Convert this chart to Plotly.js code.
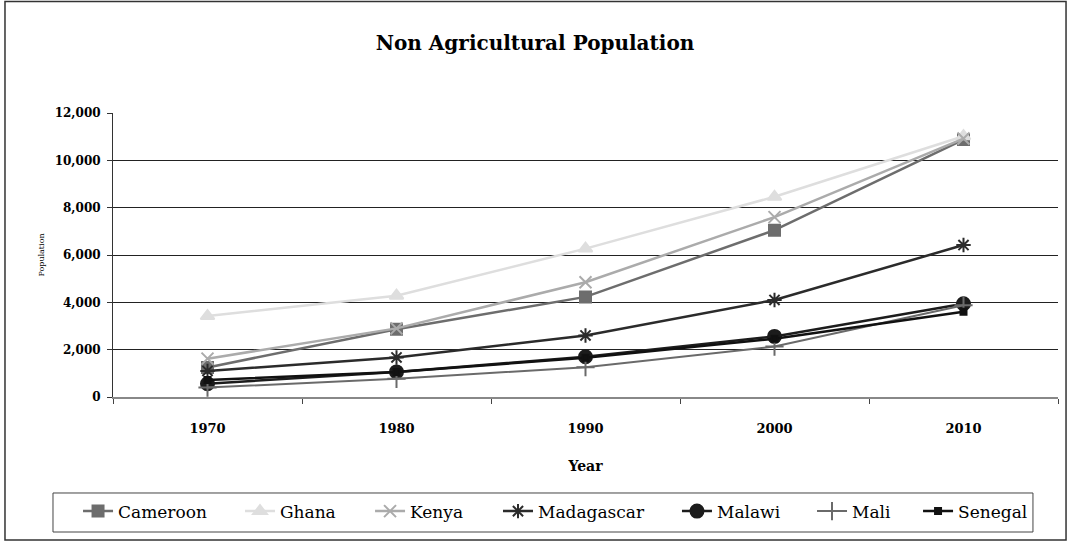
<!DOCTYPE html>
<html>
<head>
<meta charset="utf-8">
<script src="https://cdn.plot.ly/plotly-3.0.1.min.js"></script>
<style>
  html, body { margin: 0; padding: 0; background: #fff; }
  #chart { width: 1070px; height: 543px; }
</style>
</head>
<body>
<div id="chart"></div>
<script>
// Non-agricultural population by country (thousands)
const years = ['1970', '1980', '1990', '2000', '2010'];

const cameroon   = [1250, 2860, 4230, 7050, 10880];
const ghana      = [3420, 4280, 6270, 8460, 11020];
const kenya      = [1620, 2900, 4850, 7600, 10920];
const madagascar = [1100, 1670, 2600, 4100, 6420];
const malawi     = [560, 1060, 1700, 2560, 3940];
const mali       = [400, 770, 1260, 2130, 3880];
const senegal    = [720, 1060, 1660, 2460, 3600];

const seriesNames = ['Cameroon', 'Ghana', 'Kenya', 'Madagascar', 'Malawi', 'Mali', 'Senegal'];
const seriesValues = [cameroon, ghana, kenya, madagascar, malawi, mali, senegal];

const styles = [
  { color: '#6d6d6d', symbol: 'square',            size: 11, lw: 2.5 },
  { color: '#dedede', symbol: 'triangle-up',       size: 12, lw: 2.5 },
  { color: '#ababab', symbol: 'x-thin-open',       size: 12, lw: 2.5 },
  { color: '#2b2b2b', symbol: 'asterisk-open',     size: 12, lw: 2.5 },
  { color: '#1c1c1c', symbol: 'circle',            size: 13, lw: 2.5 },
  { color: '#6a6a6a', symbol: 'cross-thin-open',   size: 13, lw: 2.0 },
  { color: '#111111', symbol: 'square',            size: 6,  lw: 2.5 }
];

// Each series gets its own legend entry so the entries can be spaced
// across the full width of the legend frame.
const legendIds = ['legend', 'legend2', 'legend3', 'legend4', 'legend5', 'legend6', 'legend7'];
const legendX = [-0.0370, 0.1344, 0.2720, 0.4074, 0.5968, 0.7397, 0.8519];

const traces = seriesNames.map((name, i) => ({
  type: 'scatter',
  mode: 'lines+markers',
  name: name,
  legend: legendIds[i],
  x: years,
  y: seriesValues[i],
  line: { color: styles[i].color, width: styles[i].lw },
  marker: {
    symbol: styles[i].symbol,
    size: styles[i].size,
    color: styles[i].color,
    line: { color: styles[i].color, width: 2 }
  }
}));

const serif = '"DejaVu Serif", serif';

const layout = {
  width: 1070,
  height: 543,
  paper_bgcolor: '#ffffff',
  plot_bgcolor: '#ffffff',
  margin: { l: 113, r: 12, t: 113, b: 146 },
  showlegend: true,
  title: {
    text: '<b>Non Agricultural Population</b>',
    font: { family: serif, size: 20, color: '#000' },
    x: 0.5, xref: 'container', xanchor: 'center',
    y: 0.92, yref: 'container', yanchor: 'middle'
  },
  xaxis: {
    type: 'category',
    tickson: 'boundaries',
    ticks: 'outside',
    ticklen: 5,
    tickcolor: '#444',
    ticklabelstandoff: 18,
    showline: true,
    linecolor: '#888',
    linewidth: 2,
    showgrid: false,
    zeroline: false,
    tickfont: { family: serif, size: 13, color: '#000', weight: 'bold' },
    title: {
      text: '<b>Year</b>',
      font: { family: serif, size: 14, color: '#000' },
      standoff: 27
    },
    range: [-0.5, 4.5]
  },
  yaxis: {
    range: [0, 12000],
    tickvals: [0, 2000, 4000, 6000, 8000, 10000, 12000],
    ticktext: ['0', '2,000', '4,000', '6,000', '8,000', '10,000', '12,000'],
    ticks: 'outside',
    ticklen: 5,
    tickcolor: '#333',
    ticklabelstandoff: 4,
    showline: true,
    linecolor: '#333',
    linewidth: 1,
    showgrid: true,
    gridcolor: '#222',
    gridwidth: 1,
    zeroline: false,
    tickfont: { family: serif, size: 12, color: '#000', weight: 'bold' },
    title: {
      text: 'Population',
      font: { family: serif, size: 8, color: '#000' },
      standoff: 8
    }
  },
  shapes: [
    // chart frame
    {
      type: 'rect', xref: 'paper', yref: 'paper',
      x0: -0.1143, x1: 1.0085, y0: -0.5035, y1: 1.393,
      line: { color: '#333', width: 1.5 },
      fillcolor: 'rgba(0,0,0,0)',
      layer: 'below'
    },
    // legend frame
    {
      type: 'rect', xref: 'paper', yref: 'paper',
      x0: -0.0635, x1: 0.9735, y0: -0.4754, y1: -0.338,
      line: { color: '#444', width: 1 },
      fillcolor: 'rgba(0,0,0,0)',
      layer: 'below'
    }
  ]
};

legendIds.forEach((id, i) => {
  layout[id] = {
    orientation: 'h',
    x: legendX[i], xanchor: 'left',
    y: -0.34, yanchor: 'top',
    borderwidth: 0,
    bgcolor: 'rgba(0,0,0,0)',
    font: { family: serif, size: 17, color: '#000' },
    itemwidth: 30
  };
});

Plotly.newPlot('chart', traces, layout, { displayModeBar: false, staticPlot: true });
</script>
</body>
</html>
